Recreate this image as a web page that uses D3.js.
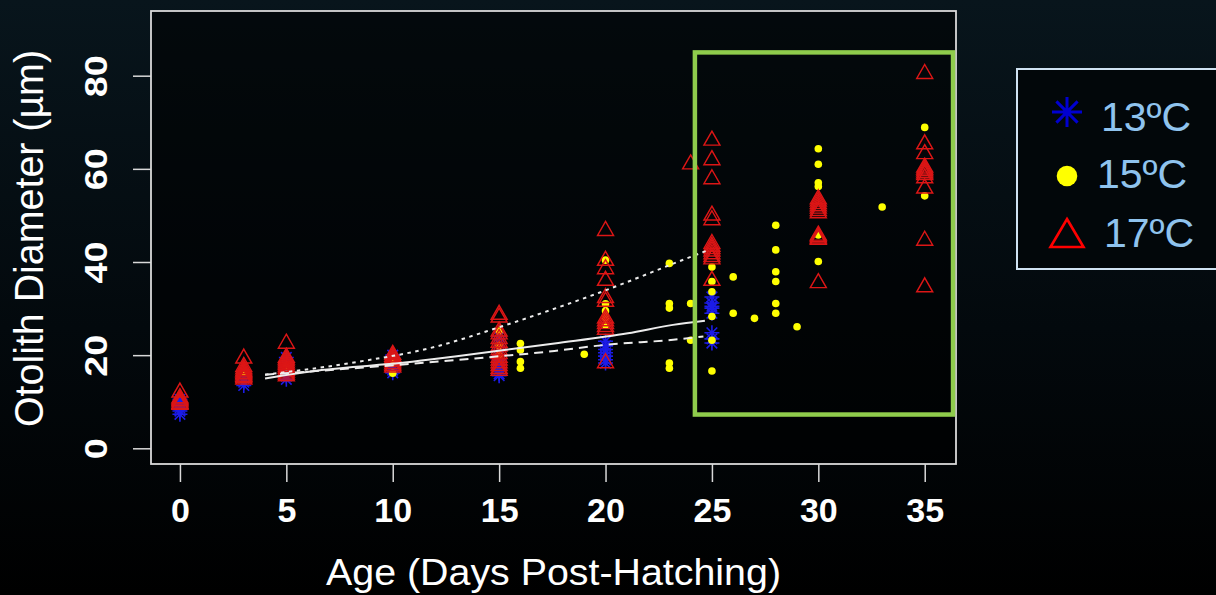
<!DOCTYPE html>
<html>
<head>
<meta charset="utf-8">
<script src="https://cdn.jsdelivr.net/npm/d3@7"></script>
<style>
  html, body { margin: 0; padding: 0; background: #000; }
  svg { display: block; }
</style>
</head>
<body>
<svg id="chart" width="1216" height="595"></svg>
<script>
// ---- Observations: otolith diameter (µm) by age (days post-hatching) ----
const ages13 = [0, 3, 5, 10, 15, 20, 25];
const diam13 = [
  [10.5, 9.8, 9.2, 8.6, 8.0, 7.3],
  [16.0, 15.0, 14.2, 13.5],
  [19.5, 18.5, 17.5, 16.5, 15.5, 14.8],
  [20.0, 19.2, 18.5, 17.6, 16.8, 16.2],
  [24.0, 22.5, 21.0, 20.0, 19.0, 18.0, 17.0, 16.0, 15.6],
  [23.0, 22.0, 21.2, 20.5, 19.8, 19.0, 18.3],
  [32.5, 31.2, 30.5, 30.1, 29.0, 24.8, 23.5, 22.6]
];

const ages15 = [3, 5, 10, 15, 16, 19, 20, 23, 24, 25, 26, 27, 28, 29, 30, 33, 35];
const diam15 = [
  [16.5],
  [17.5],
  [16.1, 18.5],
  [25.2, 22.0, 20.0],
  [22.5, 21.1, 18.6, 17.2],
  [20.2],
  [40.4, 31.0, 29.5, 28.0, 26.5],
  [39.7, 31.1, 30.1, 18.3, 17.2],
  [31.1, 23.2],
  [38.9, 35.8, 33.6, 28.3, 23.2, 16.6],
  [36.8, 29.0],
  [27.9],
  [47.9, 42.6, 37.9, 35.8, 31.1, 29.0],
  [26.1],
  [64.3, 61.0, 57.0, 56.2, 45.8, 40.1],
  [51.8],
  [68.9, 54.2]
];

const ages17 = [0, 3, 5, 10, 15, 20, 24, 25, 30, 35];
const diam17 = [
  [12.5, 11.3, 11.0, 10.7, 10.4, 10.1, 9.9],
  [19.8, 18.0, 17.5, 17.1, 16.8, 16.5, 16.2, 15.9, 15.6, 15.3],
  [23.0, 20.0, 19.6, 19.2, 18.8, 18.4, 18.0, 17.6, 17.2, 16.8, 16.4, 16.0],
  [20.6, 20.2, 19.8, 19.4, 19.0, 18.6, 18.2, 17.9],
  [29.2, 28.6, 25.6, 25.0, 24.0, 23.2, 22.4, 21.6, 20.8, 20.0, 19.4, 18.8, 18.2, 17.6, 17.2],
  [47.2, 40.8, 39.0, 36.5, 32.8, 32.0, 28.4, 27.8, 27.2, 26.6, 26.0, 18.8],
  [61.5],
  [66.6, 62.4, 58.3, 50.5, 49.5, 44.4, 43.8, 43.3, 42.8, 42.2, 41.6, 41.1, 36.5],
  [54.0, 53.5, 53.0, 52.5, 52.0, 51.5, 51.0, 46.2, 45.9, 45.6, 45.3, 36.0],
  [80.9, 65.8, 63.7, 60.8, 60.4, 60.0, 59.6, 59.2, 58.5, 56.3, 45.1, 35.1]
];

// ---- Fitted growth curves (age, diameter) ----
const fit13Age = [4.0, 13.86, 17.6, 19.97, 23.18, 24.6];
const fit13Val = [15.8, 19.3, 20.9, 22.2, 23.3, 24.0];
const fit15Age = [4.0, 6.66, 10.57, 12.92, 17.6, 21.05, 23.17, 24.67];
const fit15Val = [15.0, 16.8, 18.4, 19.7, 22.5, 24.7, 26.5, 27.4];
const fit17Age = [4.0, 8.0, 12.0, 15.0, 19.7, 24.4, 24.75];
const fit17Val = [15.8, 18.3, 21.8, 26.0, 33.4, 41.8, 42.4];

// ---- Axis ticks and labels ----
const xTicks = [0, 5, 10, 15, 20, 25, 30, 35];
const yTicks = [0, 20, 40, 60, 80];
const xTitle = "Age (Days Post-Hatching)";
const yTitle = "Otolith Diameter (µm)";
const legendLabels = ["13ºC", "15ºC", "17ºC"];

// Highlighted window (age range and diameter range)
const focusAges = [24.2, 36.33];
const focusDiam = [7.25, 85];

// ---- Layout ----
const svg = d3.select("#chart");
const W = 1216, H = 595;

const defs = svg.append("defs");
const bg = defs.append("linearGradient").attr("id", "bg")
  .attr("x1", 0).attr("y1", 0).attr("x2", 0).attr("y2", 1);
bg.append("stop").attr("offset", "0%").attr("stop-color", "#08151c");
bg.append("stop").attr("offset", "55%").attr("stop-color", "#03090d");
bg.append("stop").attr("offset", "100%").attr("stop-color", "#000000");
svg.append("rect").attr("width", W).attr("height", H).attr("fill", "url(#bg)");

const x = d3.scaleLinear().domain([-1.36, 36.47]).range([151, 956]);
const y = d3.scaleLinear().domain([-3.37, 93.89]).range([464, 11]);

const FONT = "'Liberation Sans', Arial, Helvetica, sans-serif";

// plot interior
svg.append("rect")
  .attr("x", x.range()[0]).attr("y", y.range()[1])
  .attr("width", x.range()[1] - x.range()[0])
  .attr("height", y.range()[0] - y.range()[1])
  .attr("fill", "#000").attr("fill-opacity", 0.55);

// ---- Axes ----
const xAxis = d3.axisBottom(x).tickValues(xTicks).tickSize(18).tickPadding(22).tickFormat(d3.format("d"));
const gx = svg.append("g").attr("transform", `translate(0,${y.range()[0]})`).call(xAxis);
gx.select(".domain").remove();
gx.selectAll(".tick line").attr("stroke", "#d9d9d9").attr("stroke-width", 1.5);
gx.selectAll(".tick text")
  .attr("fill", "#fff").attr("font-family", FONT).attr("font-weight", "bold")
  .attr("font-size", 34).attr("dy", null).attr("y", 57.7);

const yAxis = d3.axisLeft(y).tickValues(yTicks).tickSize(18).tickFormat(d3.format("d"));
const gy = svg.append("g").attr("transform", `translate(${x.range()[0]},0)`).call(yAxis);
gy.select(".domain").remove();
gy.selectAll(".tick line").attr("stroke", "#d9d9d9").attr("stroke-width", 1.5);
gy.selectAll(".tick text")
  .attr("fill", "#fff").attr("font-family", FONT).attr("font-weight", "bold")
  .attr("font-size", 32).attr("text-anchor", "middle")
  .attr("x", null).attr("dy", null)
  .attr("transform", "translate(-44,0) rotate(-90) scale(1.18,1)");

// frame
svg.append("rect")
  .attr("x", x.range()[0]).attr("y", y.range()[1])
  .attr("width", x.range()[1] - x.range()[0])
  .attr("height", y.range()[0] - y.range()[1])
  .attr("fill", "none").attr("stroke", "#d9d9d9").attr("stroke-width", 1.8);

// titles
svg.append("text")
  .attr("x", 326).attr("y", 585)
  .attr("font-family", FONT).attr("font-size", 37).attr("fill", "#fff")
  .attr("textLength", 455).attr("lengthAdjust", "spacingAndGlyphs")
  .text(xTitle);

svg.append("text")
  .attr("transform", "translate(43,427) rotate(-90)")
  .attr("font-family", FONT).attr("font-size", 40).attr("fill", "#fff")
  .attr("textLength", 377).attr("lengthAdjust", "spacingAndGlyphs")
  .text(yTitle);

// ---- Marker shapes ----
function asteriskPath(a) {
  const d = a * 0.707;
  return `M${-a},0H${a}M0,${-a}V${a}M${-d},${-d}L${d},${d}M${-d},${d}L${d},${-d}`;
}
function trianglePath(w, h) {
  return `M0,${-h / 2}L${w / 2},${h / 2}L${-w / 2},${h / 2}Z`;
}
function flatten(ages, diams) {
  const out = [];
  ages.forEach((a, i) => diams[i].forEach(v => out.push({ age: a, val: v })));
  return out;
}

const plot = svg.append("g");

// 13 ºC — blue asterisks
plot.append("g").selectAll("path")
  .data(flatten(ages13, diam13)).join("path")
  .attr("transform", d => `translate(${x(d.age)},${y(d.val)})`)
  .attr("d", asteriskPath(7.5))
  .attr("fill", "none").attr("stroke", "#1c1ce8").attr("stroke-width", 1.6);

// 15 ºC — yellow dots
plot.append("g").selectAll("circle")
  .data(flatten(ages15, diam15)).join("circle")
  .attr("cx", d => x(d.age)).attr("cy", d => y(d.val)).attr("r", 3.8)
  .attr("fill", "#ffff00");

// 17 ºC — red triangles
plot.append("g").selectAll("path")
  .data(flatten(ages17, diam17)).join("path")
  .attr("transform", d => `translate(${x(d.age)},${y(d.val)})`)
  .attr("d", trianglePath(16, 14))
  .attr("fill", "none").attr("stroke", "#dc1616").attr("stroke-width", 1.45)
  .attr("stroke-linejoin", "miter");

// ---- Fitted curves ----
const line = d3.line().x(d => x(d[0])).y(d => y(d[1])).curve(d3.curveMonotoneX);
const fits = [
  { age: fit13Age, val: fit13Val, dash: "9,6" },
  { age: fit15Age, val: fit15Val, dash: null },
  { age: fit17Age, val: fit17Val, dash: "3.5,4.5" }
];
fits.forEach(f => {
  plot.append("path")
    .attr("d", line(f.age.map((a, i) => [a, f.val[i]])))
    .attr("fill", "none").attr("stroke", "#ececec").attr("stroke-width", 2)
    .attr("stroke-dasharray", f.dash);
});

// ---- Highlight window ----
svg.append("rect")
  .attr("x", x(focusAges[0])).attr("y", y(focusDiam[1]))
  .attr("width", x(focusAges[1]) - x(focusAges[0]))
  .attr("height", y(focusDiam[0]) - y(focusDiam[1]))
  .attr("fill", "none").attr("stroke", "#8fcc4c").attr("stroke-width", 4.5);

// ---- Legend ----
const lg = svg.append("g").attr("transform", "translate(1017,69)");
lg.append("rect").attr("x", 0).attr("y", 0).attr("width", 230).attr("height", 200)
  .attr("fill", "#02070a").attr("stroke", "#cfe2f2").attr("stroke-width", 2);

const rows = [43, 107, 164];
lg.append("path").attr("transform", `translate(50,${rows[0]})`)
  .attr("d", asteriskPath(15)).attr("fill", "none")
  .attr("stroke", "#0000d0").attr("stroke-width", 3);
lg.append("circle").attr("cx", 50).attr("cy", rows[1]).attr("r", 10.3).attr("fill", "#ffff00");
lg.append("path").attr("transform", `translate(50,${rows[2]})`)
  .attr("d", trianglePath(33, 28)).attr("fill", "none")
  .attr("stroke", "#ff0000").attr("stroke-width", 2.6);

const textX = [84, 80, 87];
const textY = [62, 119, 178];
legendLabels.forEach((t, i) => {
  lg.append("text").attr("x", textX[i]).attr("y", textY[i])
    .attr("font-family", FONT).attr("font-size", 41).attr("fill", "#8fc3ee")
    .text(t);
});
</script>
</body>
</html>
